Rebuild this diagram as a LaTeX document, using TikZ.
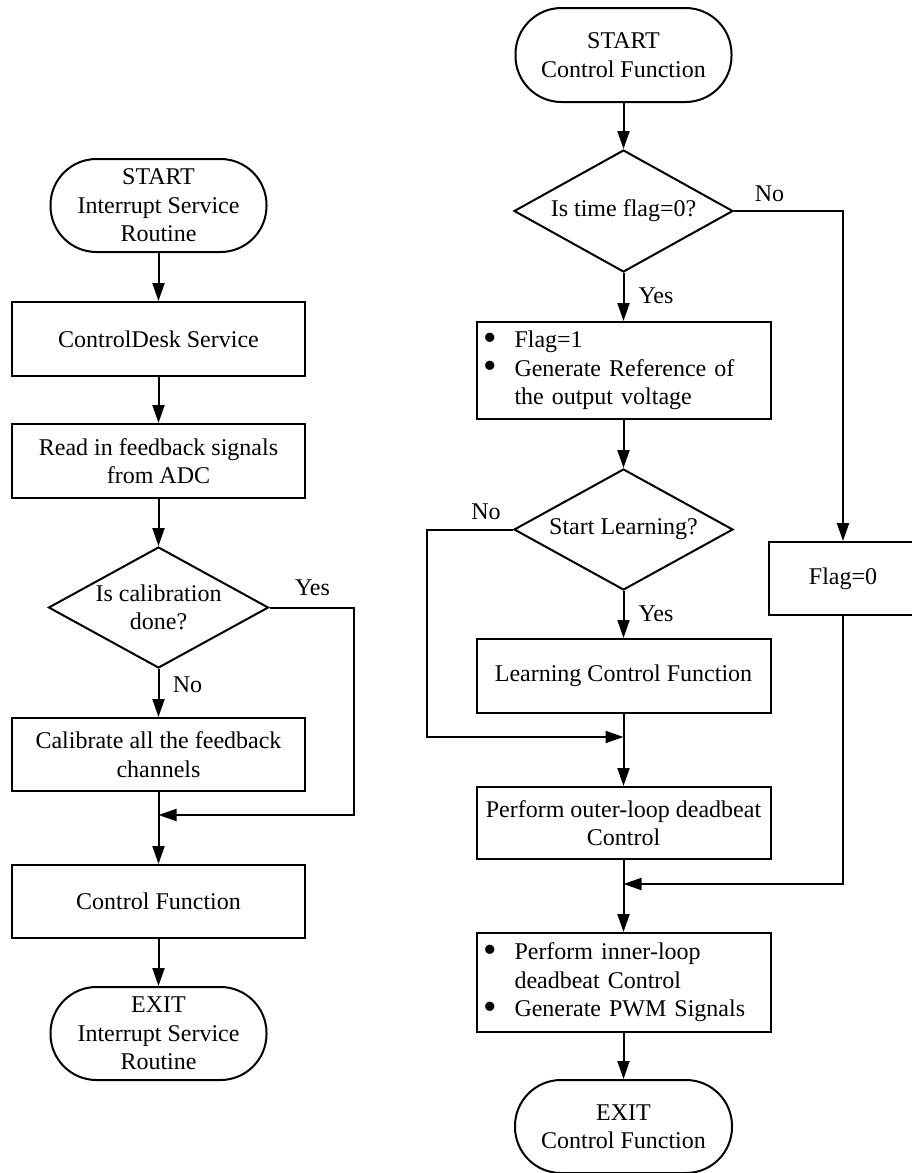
\documentclass[tikz,border=0pt]{standalone}
\usepackage{fontspec}
\usepackage{graphicx}
\setmainfont{Liberation Serif}
\usetikzlibrary{shapes.geometric,arrows.meta}
\newcommand{\bigbul}{\makebox[30pt][l]{\hspace*{-1pt}\smash{\raisebox{-2.5pt}{\scalebox{1.6}{\textbullet}}}}}
\begin{document}
\begin{tikzpicture}[x=1pt,y=-1pt,
  font=\fontsize{24}{28.5}\selectfont,
  every path/.style={line width=2pt},
  proc/.style={draw,line width=2pt,rectangle,inner sep=0pt,align=center,minimum width=293pt},
  bul/.style={draw,line width=2pt,rectangle,inner ysep=0pt,inner xsep=8pt,align=left,text width=278pt},
  term/.style={draw,line width=2pt,rectangle,rounded corners=46pt,inner sep=0pt,align=center,minimum width=216pt,minimum height=93pt},
  dec/.style={draw,line width=2pt,diamond,inner sep=0pt,minimum width=220pt,minimum height=121pt},
  lbl/.style={inner sep=0pt,text depth=0pt},
  arr/.style={-{Triangle[length=18pt,width=12pt]}}
]
\useasboundingbox (0,0) rectangle (912,1173);

% ---------- left column ----------
\node[term] (s1) at (158.5,205.5) {START\\Interrupt Service\\Routine};
\node[proc,minimum height=74pt] (b1) at (158.5,339) {ControlDesk Service};
\node[proc,minimum height=74pt] (b2) at (158.5,461) {Read in feedback signals\\from ADC};
\node[dec,label={[align=center,font=\fontsize{24}{28.5}\selectfont]center:Is calibration\\done?}] (d1) at (158.5,607.5) {};
\node[proc,minimum height=73pt] (b3) at (158.5,754.5) {Calibrate all the feedback\\channels};
\node[proc,minimum height=73pt] (b4) at (158.5,901.5) {Control Function};
\node[term] (e1) at (158.5,1033.5) {EXIT\\Interrupt Service\\Routine};

\coordinate (y1) at (353.5,815);
\coordinate (j1) at (158.5,815);

\draw[arr] (s1) -- (b1);
\draw[arr] (b1) -- (b2);
\draw[arr] (b2) -- (d1);
\draw[arr] (d1) -- (b3);
\draw[arr] (b3) -- (b4);
\draw[arr] (b4) -- (e1);
\draw[arr] (d1.east) -| (y1) -- (j1);
\node[lbl] (l1) at (312.5,588) {Yes};
\node[lbl] (l2) at (187.5,685) {No};

% ---------- right column ----------
\node[term,minimum height=94pt] (s2) at (623.5,55) {START\\Control Function};
\node[dec,minimum width=219pt,minimum height=122pt,label={center:Is time flag=0?}] (d2) at (623.5,211) {};
\node[bul,minimum height=97pt] (b5) at (623.5,370.5) {\bigbul Flag=1\\\bigbul Generate Reference of\\\hspace*{30pt}the output voltage};
\node[dec,minimum width=219pt,label={center:Start Learning?}] (d3) at (623.5,529.5) {};
\node[proc,minimum width=294pt,minimum height=74pt] (b6) at (623.5,676) {Learning Control Function};
\node[proc,minimum width=294pt,minimum height=72pt] (b7) at (623.5,823) {Perform outer-loop deadbeat\\Control};
\node[bul,minimum height=99pt] (b8) at (623.5,982.5) {\bigbul Perform inner-loop\\\hspace*{30pt}deadbeat Control\\\bigbul Generate PWM Signals};
\node[term,minimum width=217pt] (e2) at (623.5,1126.5) {EXIT\\Control Function};
\node[proc,minimum width=148pt,minimum height=73pt] (f0) at (843,578.5) {Flag=0};

\coordinate (n3) at (427,737);
\coordinate (j2) at (623.5,737);
\coordinate (j3) at (623.5,884);

\draw[arr] (s2) -- (d2);
\draw[arr] (d2) -- (b5);
\draw[arr] (b5) -- (d3);
\draw[arr] (d3) -- (b6);
\draw[arr] (b6) -- (b7);
\draw[arr] (b7) -- (b8);
\draw[arr] (b8) -- (e2);
\draw[arr] (d2.east) -| (f0.north);
\draw[arr] (d3.west) -| (n3) -- (j2);
\draw[arr] (f0.south) |- (j3);
\node[lbl] (l3) at (769.5,194) {No};
\node[lbl] (l4) at (656,296) {Yes};
\node[lbl] (l5) at (486,512) {No};
\node[lbl] (l6) at (656,614) {Yes};
\end{tikzpicture}
\end{document}
